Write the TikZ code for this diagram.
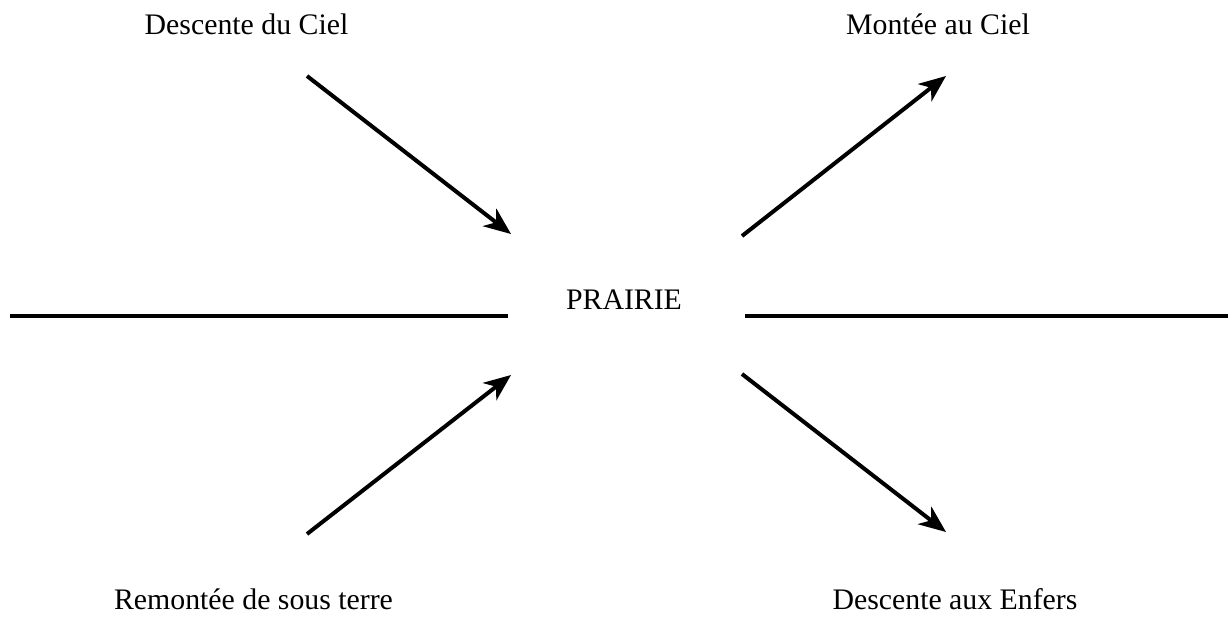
\documentclass[tikz,border=0pt]{standalone}
\usepackage{fontspec}
\setmainfont{Liberation Serif}
\usetikzlibrary{arrows.meta}
\begin{document}
\begin{tikzpicture}[x=1pt,y=-1pt,
  lbl/.style={inner sep=0pt,anchor=base,font=\fontsize{29.8}{36}\selectfont},
  arr/.style={line width=4pt,-{Stealth[length=27pt,width=22pt,inset=8pt]}},
  ground/.style={line width=3.5pt}]
\useasboundingbox (0,0) rectangle (1228,616);
\node[lbl] (dc) at (246.5,34) {Descente du Ciel};
\node[lbl] (mc) at (938,34) {Montée au Ciel};
\node[lbl] (pr) at (624,309) {PRAIRIE};
\node[lbl] (rs) at (253.5,609) {Remontée de sous terre};
\node[lbl] (de) at (955,609) {Descente aux Enfers};
\coordinate (a1s) at (307,76);  \coordinate (a1e) at (511,234);
\coordinate (a2s) at (742,236); \coordinate (a2e) at (946,76);
\coordinate (a3s) at (307,534); \coordinate (a3e) at (511,375);
\coordinate (a4s) at (742,374); \coordinate (a4e) at (946,532);
\coordinate (l1s) at (10,316);  \coordinate (l1e) at (508,316);
\coordinate (l2s) at (745,316); \coordinate (l2e) at (1228,316);
\draw[arr] (a1s) -- (a1e);
\draw[arr] (a2s) -- (a2e);
\draw[arr] (a3s) -- (a3e);
\draw[arr] (a4s) -- (a4e);
\draw[ground] (l1s) -- (l1e);
\draw[ground] (l2s) -- (l2e);
\end{tikzpicture}
\end{document}
